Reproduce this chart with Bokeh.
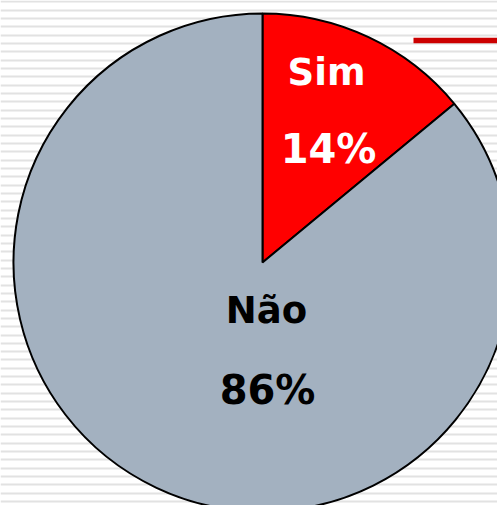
import math
from bokeh.plotting import figure
from bokeh.models import Range1d
from bokeh.core.properties import value
from bokeh.embed import file_html
from bokeh.resources import INLINE

# Data
categories = ["Sim", "Não"]
values = [14, 86]
colors = ["#ff0000", "#a3b1c0"]
text_colors = ["white", "black"]

W, H = 497, 505
p = figure(width=W, height=H, output_backend="svg", toolbar_location=None,
           x_range=Range1d(0, W), y_range=Range1d(0, H), min_border=0)
p.axis.visible = False
p.grid.visible = False
p.outline_line_color = None
p.background_fill_color = "white"

def Y(yimg):
    return H - yimg

# striped background
stripe_y = [Y(1.3 + 8.33 * k) for k in range(62)]
p.hspan(y=stripe_y, line_width=2.2, line_color="#e2e2e2")

# red line (top right)
p.segment(x0=[413], y0=[Y(40)], x1=[500], y1=[Y(40)], line_width=5.5, line_color="#cc0000")

# pie
cx, cy, r = 262, Y(262), 249
total = sum(values)
start = math.pi / 2
starts, ends = [], []
for v in values:
    a = 2 * math.pi * v / total
    starts.append(start)
    ends.append(start - a)
    start -= a
p.wedge(x=[cx] * len(values), y=[cy] * len(values), radius=r,
        start_angle=starts, end_angle=ends, direction="clock",
        fill_color=colors, line_color="black", line_width=2)

# labels
name_pos = [(326, Y(72)), (266, Y(310))]
pct_pos = [(328, Y(148)), (267, Y(389))]
for i, c in enumerate(categories):
    p.text(x=[name_pos[i][0]], y=[name_pos[i][1]], text=[c],
           text_font=value("DejaVu Sans"), text_font_style="bold",
           text_font_size="37px", text_color=text_colors[i],
           text_align="center", text_baseline="alphabetic")
    p.text(x=[pct_pos[i][0]], y=[pct_pos[i][1]], text=[f"{values[i]}%"],
           text_font=value("DejaVu Sans"), text_font_style="bold",
           text_font_size="40px", text_color=text_colors[i],
           text_align="center", text_baseline="alphabetic")

open("out.html", "w").write(file_html(p, INLINE))
